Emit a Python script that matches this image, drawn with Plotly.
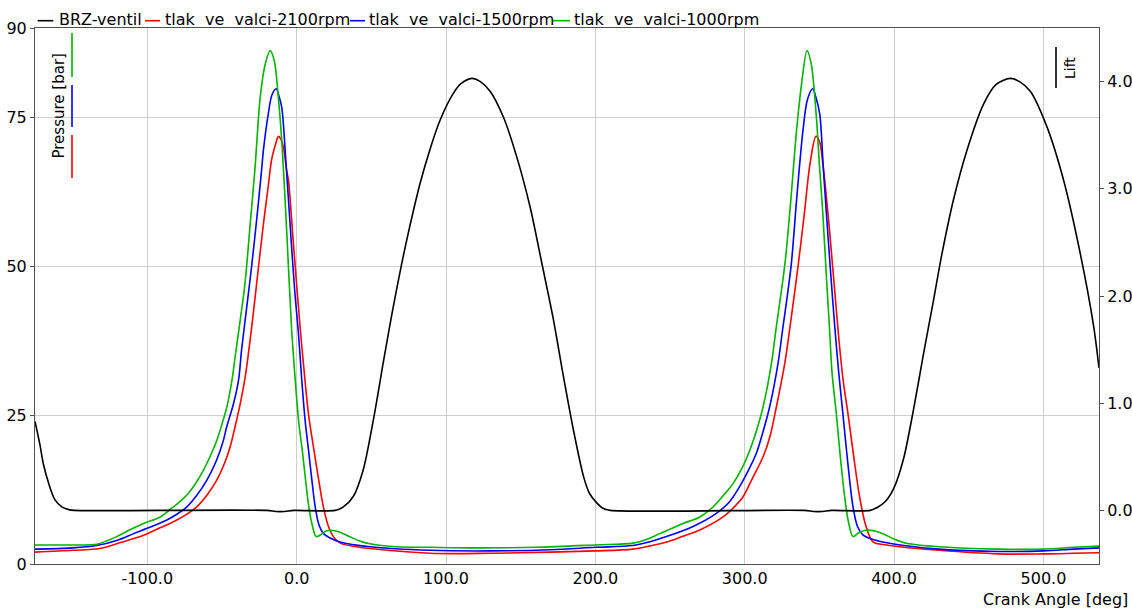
import plotly.graph_objects as go

# ---- data -------------------------------------------------------------
# valve lift (BRZ-ventil) vs crank angle
lift_angle = [-175.2, -172, -169.7, -166, -161.9, -157, -152, -149, -20, -14, -8, -2,
              25.7, 31, 37.9, 44.6, 51.3, 58, 63.6, 70.3, 75.9, 82.6, 89.3, 96, 104.9,
              110, 117.2, 123, 129.5, 138.4, 147.3, 156.3, 164.1, 171.9, 178.6, 185.3,
              192, 196, 200.9, 205, 210, 340, 346, 352, 358, 384, 389, 394, 399.6,
              406.3, 413, 419.7, 426.4, 432, 439.8, 448.8, 459.9, 468, 477.8, 484,
              491.2, 502.3, 513.5, 524.6, 533.6, 537.2]
lift_value = [0.83, 0.62, 0.44, 0.25, 0.10, 0.03, 0.005, 0, 0, -0.01, -0.01, 0,
              0, 0.03, 0.13, 0.38, 0.84, 1.38, 1.82, 2.30, 2.66, 3.05, 3.37, 3.64, 3.89,
              3.98, 4.03, 4.00, 3.91, 3.67, 3.30, 2.83, 2.31, 1.78, 1.25, 0.75,
              0.32, 0.16, 0.07, 0.02, 0, 0, -0.01, -0.01, 0, 0, 0.03, 0.08, 0.20,
              0.48, 0.94, 1.46, 1.96, 2.39, 2.90, 3.36, 3.79, 3.97, 4.03, 4.00,
              3.91, 3.58, 3.08, 2.40, 1.72, 1.33]

# cylinder pressure, 2100 rpm
p2100_angle = [-175.2, -150, -132, -118, -104.7, -94, -82.5, -74, -66.9, -60, -53.5,
               -48.5, -44.5, -41.3, -37.8, -34.4, -30, -26.8, -22.4, -19.1, -16.7, -14,
               -12.2, -10.5, -8.9, -6.7, -5.5, -2.4, 2.3, 5.5, 8, 11.2, 14.5, 17.9, 21,
               24.6, 29.1, 40, 49.1, 89.3, 130, 170, 200, 225, 236, 247.6, 258, 269.9,
               285.5, 293, 298.9, 305, 312.3, 317, 321.2, 326.8, 330.3, 335.9, 340,
               343.7, 347.7, 350, 352.3, 356.8, 362.4, 365.8, 369.1, 373, 376.9, 381,
               385.9, 395, 403.8, 430, 470, 500, 520, 537.2]
p2100_value = [2.0, 2.3, 2.6, 3.6, 4.6, 5.8, 7.1, 8.3, 9.6, 11.6, 14.1,
               16.8, 19.7, 23.0, 26.9, 31.5, 40.0, 47.1, 56.8, 63.3, 68.0, 70.6,
               71.8, 71.3, 70.0, 66.1, 64.4, 54.5, 39.8, 31.0, 25.0, 19.7, 14.5, 9.6, 6.5,
               4.6, 3.5, 2.9, 2.6, 1.8, 1.8, 2.0, 2.2, 2.5, 3.0, 3.7, 4.6, 5.7,
               7.9, 9.6, 11.3, 14.3, 18.0, 21.5, 26.4, 33.7, 39.8, 50.4, 59.0,
               67.2, 71.8, 71.0, 67.2, 56.0, 39.5, 31.0, 25.3, 18.0, 11.3, 6.5,
               3.7, 3.2, 2.9, 2.3, 1.7, 1.7, 1.8, 1.9]

# cylinder pressure, 1500 rpm
p1500_angle = [-175.2, -150, -134, -120, -109.2, -98, -86.9, -80, -73.5, -67, -60.1,
               -54, -49, -46.9, -42.3, -38.9, -36.9, -33.5, -30.2, -26.5, -23.5, -22.3,
               -19.0, -16.5, -13.7, -11.8, -10.0, -7.2, -3.6, -1.2, 1.2, 3.5, 5.7, 7.9,
               10, 12.4, 15, 18, 22, 29, 49.1, 89.3, 130, 170, 200, 225, 236, 247.6,
               265.4, 281, 290, 296.6, 302, 307.8, 312, 316.7, 322.3, 325.6, 328.5,
               331.2, 335, 339.0, 342, 345.5, 347.5, 350.2, 352.5, 354.7, 357.5, 360.3,
               363, 365.7, 369, 372.5, 375.5, 379.1, 385, 392.5, 404, 430, 470, 500,
               520, 537.2]
p1500_value = [2.5, 2.7, 3.1, 4.0, 5.1, 6.2, 7.4, 8.4, 9.6, 11.5, 14.1,
               17.2, 20.8, 23.0, 26.9, 30.9, 35.9, 43.0, 49.9, 58.5, 66.1, 69.4,
               75.6, 78.8, 79.8, 78.5, 76.7, 67.5, 54.0, 45.5, 38.7, 30.6, 24.0, 19.2,
               14.5, 9.6, 6.5, 5.1, 4.4, 3.7, 2.9, 2.3, 2.2, 2.4, 2.8, 3.1, 3.7, 4.6,
               6.3, 8.5, 10.5, 13.0, 15.5, 18.6, 22.0, 26.4, 33.7, 39.8, 45.0,
               50.4, 62.0, 72.8, 78.0, 79.8, 78.5, 75.6, 67.0, 58.8, 49.0, 39.8,
               32.0, 25.3, 17.0, 9.6, 6.3, 4.9, 4.2, 3.7, 3.2, 2.5, 2.1, 2.2,
               2.5, 2.7]

# cylinder pressure, 1000 rpm
p1000_angle = [-175.2, -150, -134, -127, -120.5, -112, -102.5, -91.3, -84.6, -79, -73.5,
               -68, -62.3, -57, -53.4, -50, -46.7, -43.3, -41.2, -37.5, -34.6, -31.1,
               -27.8, -24.4, -21, -17.7, -15, -12.3, -9.7, -6.5, -3.4, -1.0, 1.5, 3.8,
               6, 7.9, 10, 13.1, 16, 20.2, 26.9, 32, 37.9, 43, 49.1, 67, 89.3, 120,
               160, 200, 225.3, 235, 243.1, 258.7, 269.9, 278.8, 286, 292.2, 298,
               303.4, 308, 312.3, 317.9, 320.8, 326.9, 330.5, 334.7, 338, 341.7, 344.5,
               347.8, 350, 352.3, 354.5, 356.7, 358.5, 361.3, 364, 366.9, 369.5, 372.5,
               376, 381.4, 386, 392.5, 400, 408.2, 430.5, 470, 500, 520, 537.2]
p1000_value = [3.2, 3.2, 3.3, 3.9, 4.6, 5.7, 6.8, 7.9, 9.2, 10.3, 11.6,
               13.4, 15.8, 18.6, 20.8, 23.5, 26.4, 30.9, 34.8, 41.5, 47.1, 57.1,
               66.8, 78.4, 84.0, 86.2, 84.5, 78.4, 70.0, 55.0, 39.5, 31.0, 23.5, 19.0,
               14.0, 10.0, 7.0, 4.6, 4.9, 5.6, 5.5, 5.0, 4.3, 3.8, 3.4, 2.9, 2.8, 2.7,
               2.8, 3.2, 3.5, 4.2, 5.1, 6.8, 7.9, 9.6, 11.6, 13.5, 16.0,
               19.1, 22.5, 26.4, 33.7, 39.2, 50.4, 60.0, 72.8, 80.5, 86.2, 84.0,
               75.6, 67.0, 58.8, 49.0, 39.8, 32.0, 25.3, 18.0, 11.3, 7.0, 4.6,
               5.2, 5.7, 5.6, 5.1, 4.2, 3.5, 2.9, 2.5, 2.5, 2.8, 3.0]

series_names = ["BRZ-ventil", "tlak\u00a0 ve\u00a0 valci-2100rpm",
                "tlak\u00a0 ve\u00a0 valci-1500rpm", "tlak\u00a0 ve\u00a0 valci-1000rpm"]
series_colors = ["#000000", "#ff0000", "#0000ff", "#00b400"]

x_ticks = [-100, 0, 100, 200, 300, 400, 500]
x_tick_text = ["-100.0", "0.0", "100.0", "200.0", "300.0", "400.0", "500.0"]
p_ticks = [0, 25, 50, 75, 90]
p_tick_text = ["0", "25", "50", "75", "90"]
lift_ticks = [0, 1, 2, 3, 4]
lift_tick_text = ["0.0", "1.0", "2.0", "3.0", "4.0"]

# ---- figure -----------------------------------------------------------
W, H = 1132, 608
ML, MR, MT, MB = 35, 33, 28, 44
PW, PH = W - ML - MR, H - MT - MB
FONT = "DejaVu Sans"


def px(xp):
    return (xp - ML) / PW


def py(yp):
    return (H - MB - yp) / PH


fig = go.Figure()

line_w = 1.6
fig.add_trace(go.Scatter(x=lift_angle, y=lift_value, name=series_names[0], yaxis="y2",
                         mode="lines", line=dict(color=series_colors[0], width=line_w,
                                                 shape="spline", smoothing=0.8)))
for ang, val, nm, col in [(p2100_angle, p2100_value, series_names[1], series_colors[1]),
                          (p1500_angle, p1500_value, series_names[2], series_colors[2]),
                          (p1000_angle, p1000_value, series_names[3], series_colors[3])]:
    fig.add_trace(go.Scatter(x=ang, y=val, name=nm, mode="lines",
                             line=dict(color=col, width=line_w, shape="spline", smoothing=0.9)))

axis_col = "#505050"
grid_col = "#cfcfcf"
tick_font = dict(family=FONT, size=16, color="#000000")

fig.update_layout(
    width=W, height=H,
    margin=dict(l=ML, r=MR, t=MT, b=MB, pad=0, autoexpand=False),
    paper_bgcolor="white", plot_bgcolor="white",
    showlegend=False,
    font=dict(family=FONT, size=16, color="#000000"),
    xaxis=dict(range=[-175.2, 537.2], tickvals=x_ticks, ticktext=x_tick_text,
               showgrid=True, gridcolor=grid_col, gridwidth=1, zeroline=False,
               showline=True, linecolor=axis_col, linewidth=1, mirror=True,
               ticks="", tickfont=tick_font, automargin=False, ticklabelstandoff=0),
    yaxis=dict(range=[0, 90], tickvals=p_ticks, ticktext=p_tick_text,
               showgrid=True, gridcolor=grid_col, gridwidth=1, zeroline=False,
               showline=True, linecolor=axis_col, linewidth=1, mirror=True,
               ticks="outside", ticklen=4, tickcolor=axis_col, tickfont=tick_font,
               automargin=False),
    yaxis2=dict(range=[-0.5, 4.5], tickvals=lift_ticks, ticktext=lift_tick_text,
                overlaying="y", side="right", showgrid=False, zeroline=False,
                showline=True, linecolor=axis_col, linewidth=1,
                ticks="outside", ticklen=4, tickcolor=axis_col, tickfont=tick_font,
                automargin=False),
)

shapes = []
annotations = []

# legend row above the plot
legend_items = [(37.7, 53.3, 57), (145, 160, 163), (350, 365, 367), (553, 570, 572)]
for (x0, x1, xt), nm, col in zip(legend_items, series_names, series_colors):
    shapes.append(dict(type="line", xref="paper", yref="paper", x0=px(x0), x1=px(x1),
                       y0=py(20.7), y1=py(20.7), line=dict(color=col, width=1.6)))
    annotations.append(dict(text=nm, xref="paper", yref="paper", x=px(xt), y=py(20),
                            xanchor="left", yanchor="middle", showarrow=False,
                            font=dict(family=FONT, size=16, color="#000000")))

# left axis title with series colour keys
annotations.append(dict(text="Pressure [bar]", xref="paper", yref="paper", x=px(58), y=py(106.5),
                        xanchor="center", yanchor="middle", textangle=-90, showarrow=False,
                        font=dict(family=FONT, size=15, color="#000000")))
for (y0, y1), col in zip([(33, 77), (85, 127), (135, 178)],
                         [series_colors[3], series_colors[2], series_colors[1]]):
    shapes.append(dict(type="line", xref="paper", yref="paper", x0=px(72), x1=px(72),
                       y0=py(y0), y1=py(y1), line=dict(color=col, width=1.6)))

# right axis title with key
annotations.append(dict(text="Lift", xref="paper", yref="paper", x=px(1070), y=py(68),
                        xanchor="center", yanchor="middle", textangle=-90, showarrow=False,
                        font=dict(family=FONT, size=14, color="#000000")))
shapes.append(dict(type="line", xref="paper", yref="paper", x0=px(1056), x1=px(1056),
                   y0=py(47), y1=py(88), line=dict(color="#000000", width=1.6)))

# x axis title, bottom right
annotations.append(dict(text="Crank Angle [deg]", xref="paper", yref="paper", x=px(1130), y=py(599.5),
                        xanchor="right", yanchor="middle", showarrow=False,
                        font=dict(family=FONT, size=16, color="#000000")))

fig.update_layout(shapes=shapes, annotations=annotations)
fig.write_html("out.html")
